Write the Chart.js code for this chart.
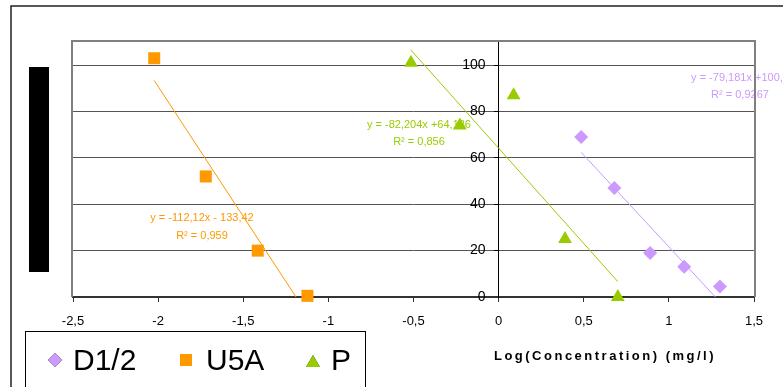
<!DOCTYPE html>
<html>
<head>
<meta charset="utf-8">
<script src="https://cdn.jsdelivr.net/npm/chart.js@4/dist/chart.umd.min.js"></script>
<style>
	body { margin: 0; background: #fff; }
	canvas { display: block; }
</style>
</head>
<body>
<canvas id="toxChart" width="783" height="387"></canvas>
<script>
// Data
const seriesNames = ['D1/2', 'U5A', 'P'];

const d12X = [0.485, 0.68, 0.89, 1.09, 1.30];
const d12Y = [69, 47, 19, 13, 4.5];

const u5aX = [-2.023, -1.72, -1.415, -1.123];
const u5aY = [103, 52, 20, 0.5];

const pX = [-0.515, -0.228, 0.088, 0.39, 0.70];
const pY = [101, 74, 87, 25, 0];

// Trendline equations as printed on the chart
const trendSlopes = [-79.181, -112.12, -82.204];
const trendIntercepts = [100.8, -133.42, 64.186];
const trendEquations = ['y = -79,181x +100,8', 'y = -112,12x - 133,42', 'y = -82,204x +64,186'];
const trendR2 = ['R² = 0,9267', 'R² = 0,959', 'R² = 0,856'];

const xTicks = [-2.5, -2, -1.5, -1, -0.5, 0, 0.5, 1, 1.5];
const yTicks = [0, 20, 40, 60, 80, 100];

const xTitle = 'Log(Concentration) (mg/l)';

let lavender = '#cc99ff';
let orange = '#ff9900';
let lime = '#99cc00';
let seriesColors = [lavender, orange, lime];
let pointStyles = ['rectRot', 'rect', 'triangle'];
let pointSizes = [7, 8.5, 8];
let fontName = "'Liberation Sans', Arial, sans-serif";

let toxChart;

function toPoints(xs, ys) {
	let pts = [];
	for(let i = 0; i < xs.length; i++) {
		pts.push({x: xs[i], y: ys[i]});
	}
	return pts;
}

function trendPoints(xs, i) {
	let lo = Math.min.apply(null, xs);
	let hi = Math.max.apply(null, xs);
	return [
		{x: lo, y: trendSlopes[i] * lo + trendIntercepts[i]},
		{x: hi, y: trendSlopes[i] * hi + trendIntercepts[i]}
	];
}

function commaNum(v) {
	return String(v).replace('.', ',');
}

// Labels, frames, legend and the rest Excel draws around the plot
const decorPlugin = {
	id: 'decor',
	beforeDatasetsDraw(chart) {
		const ctx = chart.ctx;
		const area = chart.chartArea;
		const yScale = chart.scales.y;
		const axisX = chart.scales.x.getPixelForValue(0);
		const labelPos = [[740, 78, 95], [202, 218, 236], [419, 125, 142]];

		ctx.save();

		// y tick labels sit left of the axis which crosses at x = 0
		ctx.font = '14px ' + fontName;
		ctx.fillStyle = '#000';
		ctx.textAlign = 'right';
		ctx.textBaseline = 'middle';
		yScale.ticks.forEach(function(t) {
			ctx.fillText(commaNum(t.value), axisX - 13, yScale.getPixelForValue(t.value));
		});

		ctx.font = '11px ' + fontName;
		ctx.textAlign = 'center';
		for(let i = 0; i < 3; i++) {
			ctx.fillStyle = seriesColors[i];
			ctx.fillText(trendEquations[i], labelPos[i][0], labelPos[i][1]);
			ctx.fillText(trendR2[i], labelPos[i][0], labelPos[i][2]);
		}

		// plot area border (top, left, right)
		ctx.strokeStyle = '#808080';
		ctx.lineWidth = 2;
		ctx.beginPath();
		ctx.moveTo(area.left - 1, area.bottom);
		ctx.lineTo(area.left - 1, area.top - 1);
		ctx.lineTo(area.right + 1, area.top - 1);
		ctx.lineTo(area.right + 1, area.bottom);
		ctx.stroke();
		ctx.restore();
	},
	afterDraw(chart) {
		const ctx = chart.ctx;
		ctx.save();

		// outer chart frame
		ctx.strokeStyle = '#222';
		ctx.lineWidth = 1.5;
		ctx.strokeRect(11, 6, 900, 500);

		// redacted y title
		ctx.fillStyle = '#000';
		ctx.fillRect(29, 67, 20, 205);

		// x axis title
		ctx.font = 'bold 13px ' + fontName;
		ctx.letterSpacing = '2.5px';
		ctx.textAlign = 'center';
		ctx.textBaseline = 'middle';
		ctx.fillText(xTitle, 605, 356);
		ctx.letterSpacing = '0px';

		// legend
		ctx.lineWidth = 1;
		ctx.strokeStyle = '#000';
		ctx.strokeRect(25.5, 331.5, 340, 100);
		const markerX = [55, 186, 313];
		const markerY = [360, 360, 363];
		const markerR = [7, 8.5, 8];
		const textX = [73, 206, 331];
		ctx.font = '30px ' + fontName;
		ctx.textAlign = 'left';
		ctx.textBaseline = 'alphabetic';
		for(let i = 0; i < 3; i++) {
			Chart.helpers.drawPoint(ctx, {
				pointStyle: pointStyles[i],
				radius: markerR[i],
				borderWidth: 0,
				rotation: 0
			}, markerX[i], markerY[i]);
			ctx.fillStyle = seriesColors[i];
			ctx.fill();
			ctx.fillStyle = '#000';
			ctx.fillText(seriesNames[i], textX[i], 370);
		}
		ctx.restore();
	}
};

function initChart() {
	const context = document.getElementById('toxChart').getContext('2d');
	const seriesX = [d12X, u5aX, pX];
	const seriesY = [d12Y, u5aY, pY];
	let datasets = [];

	for(let i = 0; i < 3; i++) {
		datasets.push({
			label: seriesNames[i],
			data: toPoints(seriesX[i], seriesY[i]),
			showLine: false,
			pointStyle: pointStyles[i],
			pointRadius: pointSizes[i],
			pointBorderWidth: 0,
			pointBackgroundColor: seriesColors[i],
			clip: false,
		});
	}
	for(let i = 0; i < 3; i++) {
		datasets.push({
			label: seriesNames[i] + ' trend',
			data: trendPoints(seriesX[i], i),
			showLine: true,
			borderColor: seriesColors[i],
			borderWidth: 1,
			pointRadius: 0,
			clip: 0,
		});
	}

	const config = {
		type: 'scatter',
		data: {datasets: datasets},
		plugins: [decorPlugin],
		options: {
			responsive: false,
			animation: false,
			events: [],
			layout: {
				padding: {left: 73, top: 42, right: 29, bottom: 0},
			},
			plugins: {
				legend: {display: false},
				tooltip: {enabled: false},
			},
			scales: {
				x: {
					type: 'linear',
					min: -2.5,
					max: 1.5,
					afterBuildTicks: function(scale) {
						scale.ticks = xTicks.map(function(v) { return {value: v}; });
					},
					afterFit: function(scale) {
						scale.height = 90;
					},
					grid: {
						drawOnChartArea: false,
						tickLength: 5,
						tickColor: '#333',
						tickWidth: 1,
					},
					border: {
						color: '#333',
						width: 2,
					},
					ticks: {
						color: '#000',
						padding: 12,
						font: {family: fontName, size: 13},
						callback: function(v) { return commaNum(v); },
					},
				},
				y: {
					type: 'linear',
					position: {x: 0},
					min: 0,
					max: 110,
					afterBuildTicks: function(scale) {
						scale.ticks = yTicks.map(function(v) { return {value: v}; });
					},
					afterFit: function(scale) {
						scale.width = 0;
					},
					grid: {
						color: '#555',
						lineWidth: 1,
						tickLength: 4,
						tickColor: '#000',
					},
					border: {
						color: '#000',
						width: 1,
					},
					ticks: {
						display: false,
					},
				},
			},
		},
	};

	toxChart = new Chart(context, config);
}

document.addEventListener('DOMContentLoaded', function() {
	initChart();
});
</script>
</body>
</html>
